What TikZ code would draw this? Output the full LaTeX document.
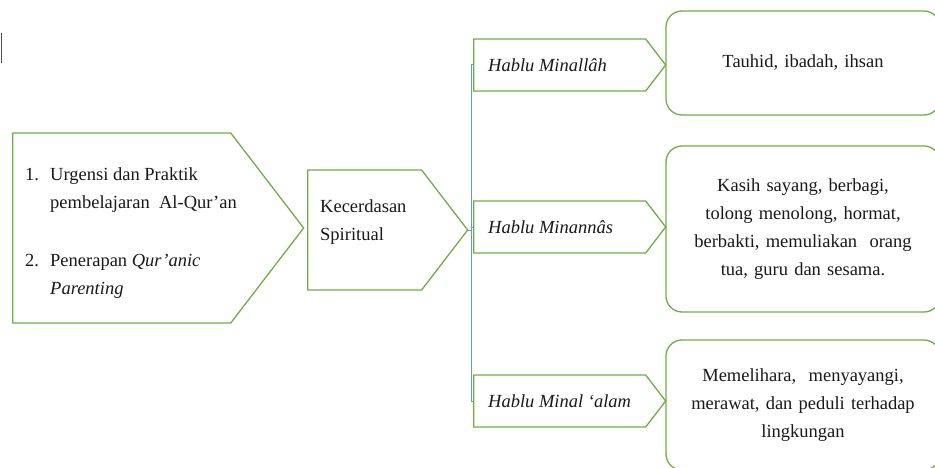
\documentclass[tikz,border=0pt]{standalone}
\usepackage{fontspec}
\setmainfont{Liberation Serif}
\usetikzlibrary{shapes.symbols, positioning}
\definecolor{leafgreen}{HTML}{70AD47}
\definecolor{linkblue}{HTML}{5B9BD5}

\begin{document}
\begin{tikzpicture}[
    x=1pt, y=-1pt,
    every node/.style={font=\fontsize{18.5}{28}\selectfont, text=black!90},
    chevron/.style={draw=leafgreen, line width=1.3pt, shape=signal, signal to=east, signal from=nowhere, signal pointer angle=105, inner sep=0pt, anchor=west},
    chevtext/.style={anchor=west, align=left, inner sep=0pt, xshift=#1},
    note/.style={draw=leafgreen, line width=1.3pt, rounded corners=16pt, minimum width=274, text width=260, align=center},
    link/.style={draw=linkblue, line width=1pt}
]
\useasboundingbox (0,0) rectangle (935,468);

% stray cursor mark
\draw[black!70, line width=1.2pt] (1.5,33) -- (1.5,63);

\node[chevron, minimum width=291, minimum height=190,
    label={[chevtext=13, yshift=-5pt]west:{\makebox[25pt][l]{1.}Urgensi dan Praktik\\
     \hspace*{25pt}pembelajaran\ \ Al-Qur’an\\[30pt]
     \makebox[25pt][l]{2.}Penerapan \textit{Qur’anic}\\
     \hspace*{25pt}\textit{Parenting}}}] (src) at (12,228) {};
\node[chevron, minimum width=160, minimum height=120,
    label={[chevtext=13, yshift=8pt]west:{Kecerdasan\\Spiritual}}] (kec) at (307,230) {};

\node[chevron, minimum width=192, minimum height=52,
    label={[chevtext=15]west:\textit{Hablu Minallâh}}] (allah) at (473,65) {};
\node[chevron, minimum width=192, minimum height=52,
    label={[chevtext=15]west:\textit{Hablu Minannâs}}] (annas) at (473,227) {};
\node[chevron, minimum width=192, minimum height=52,
    label={[chevtext=15]west:\textit{Hablu Minal ‘alam}}] (alam) at (473,401) {};

\node[note, minimum height=104] (ibadah) at (803,63) {Tauhid, ibadah, ihsan\\[3pt]};
\node[note, minimum height=166] (sesama) at (803,229)
    {Kasih sayang, berbagi,\\ tolong menolong, hormat,\\ berbakti, memuliakan\ \ orang\\ tua, guru dan sesama.};
\node[note, minimum height=130] (alamnote) at (803,405)
    {Memelihara,\ \ menyayangi,\\ merawat, dan peduli terhadap\\ lingkungan};

\draw[link] (kec.east) -- ++(3,0) |- (allah.west);
\draw[link] (kec.east) -- ++(3,0) |- (annas.west);
\draw[link] (kec.east) -- ++(3,0) |- (alam.west);
\end{tikzpicture}
\end{document}
